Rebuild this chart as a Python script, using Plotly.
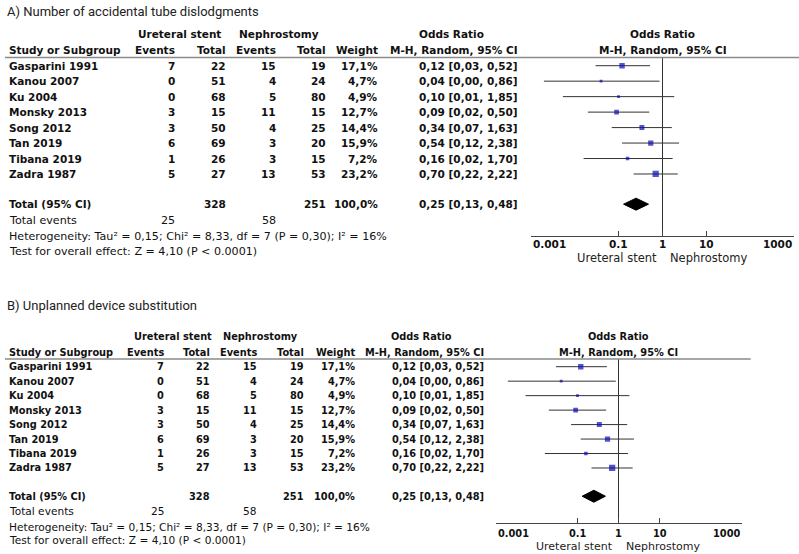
import math
import plotly.graph_objects as go

W, H = 799, 554

# ---------------- data ----------------
studies = ["Gasparini 1991", "Kanou 2007", "Ku 2004", "Monsky 2013",
           "Song 2012", "Tan 2019", "Tibana 2019", "Zadra 1987"]
stent_events = [7, 0, 0, 3, 3, 6, 1, 5]
stent_total = [22, 51, 68, 15, 50, 69, 26, 27]
neph_events = [15, 4, 5, 11, 4, 3, 3, 13]
neph_total = [19, 24, 80, 15, 25, 20, 15, 53]
weight = [17.1, 4.7, 4.9, 12.7, 14.4, 15.9, 7.2, 23.2]
or_est = [0.12, 0.04, 0.10, 0.09, 0.34, 0.54, 0.16, 0.70]
or_low = [0.03, 0.002, 0.0054, 0.02, 0.07, 0.12, 0.016, 0.22]
or_high = [0.52, 0.86, 1.85, 0.50, 1.63, 2.38, 1.70, 2.22]
total_weight = 100.0
total_or = 0.25
total_low = 0.13
total_high = 0.48
tau2, chi2, df_het, p_het, i2 = 0.15, 8.33, 7, 0.30, 16
z_overall, p_overall = 4.10, "< 0.0001"
tick_vals = [0.001, 0.1, 1, 10, 1000]
tick_text = ["0.001", "0.1", "1", "10", "1000"]
panel_titles = ["A) Number of accidental tube dislodgments",
                "B) Unplanned device substitution"]


def fmt(v, d=2):
    return f"{v:.{d}f}".replace(".", ",")


# ---------------- layout constants ----------------
HDR1, HDR2, LINE = -2.06, -1.01, -0.53
TOTAL, TEV, HET, TEST = 8.95, 10.0, 11.05, 12.0
TICKLAB, BOTLAB = 11.5, 12.4

panels = [
    dict(title_y=12, row0=65.7, step=15.47, fs=10.5, rfs=11.1, tfs=13,
         cols=dict(name=7, ev1=177, tot1=228, ev2=278, tot2=328.3, w=380, ci=520),
         us_c=179, ne_c=278.5, or1_c=451, fx=(530.7, 794.3), line_x1=799,
         axis_row=11.04, xa="x", ya="y"),
    dict(title_y=305, row0=366.7, step=14.47, fs=9.8, rfs=10.6, tfs=13,
         cols=dict(name=7, ev1=165.7, tot1=212.3, ev2=259, tot2=305.7, w=356.7, ci=486),
         us_c=173, ne_c=260, or1_c=421, fx=(495.5, 741.5), line_x1=750.7,
         axis_row=10.82, xa="x2", ya="y2"),
]

BOLD = "DejaVu Sans"
TITLE_FONT = "Roboto, Arial"
TXT = "#111"

fig = go.Figure()
annotations = []
shapes = []
layout_axes = {}

for k, p in enumerate(panels):
    xa, ya = p["xa"], p["ya"]
    fs = p["fs"]
    rfs = p["rfs"]
    c = p["cols"]

    def ann(text, xpx, row, anchor="left", bold=True, size=None, color=TXT):
        annotations.append(dict(
            text=f"<b>{text}</b>" if bold else text,
            x=xpx / W, xref="paper", y=row, yref=ya,
            xanchor=anchor, yanchor="middle", showarrow=False,
            font=dict(family=BOLD, size=size or fs, color=color)))

    # title
    annotations.append(dict(
        text=panel_titles[k], x=5 / W, xref="paper",
        y=1 - p["title_y"] / H, yref="paper", xanchor="left", yanchor="middle",
        showarrow=False, font=dict(family=TITLE_FONT, size=p["tfs"], color="#222")))

    # headers
    ann("Ureteral stent", p["us_c"], HDR1, "center")
    ann("Nephrostomy", p["ne_c"], HDR1, "center")
    ann("Odds Ratio", p["or1_c"], HDR1, "center")
    ann("Study or Subgroup", c["name"], HDR2, "left")
    ann("Events", c["ev1"], HDR2, "right")
    ann("Total", c["tot1"], HDR2, "right")
    ann("Events", c["ev2"], HDR2, "right")
    ann("Total", c["tot2"], HDR2, "right")
    ann("Weight", c["w"], HDR2, "right")
    ann("M-H, Random, 95% CI", c["ci"], HDR2, "right")
    annotations.append(dict(text="<b>Odds Ratio</b>", x=0, xref=xa, y=HDR1, yref=ya,
                            xanchor="center", yanchor="middle", showarrow=False,
                            font=dict(family=BOLD, size=fs, color=TXT)))
    annotations.append(dict(text="<b>M-H, Random, 95% CI</b>", x=0, xref=xa, y=HDR2, yref=ya,
                            xanchor="center", yanchor="middle", showarrow=False,
                            font=dict(family=BOLD, size=fs, color=TXT)))

    shapes.append(dict(type="line", xref="paper", yref=ya, x0=5 / W, x1=p["line_x1"] / W,
                       y0=LINE, y1=LINE, line=dict(color="#8a8a8a", width=1.5)))

    # study rows
    for i, s in enumerate(studies):
        ann(s, c["name"], i, "left")
        ann(str(stent_events[i]), c["ev1"], i, "right")
        ann(str(stent_total[i]), c["tot1"], i, "right")
        ann(str(neph_events[i]), c["ev2"], i, "right")
        ann(str(neph_total[i]), c["tot2"], i, "right")
        ann(fmt(weight[i], 1) + "%", c["w"], i, "right")
        ann(f"{fmt(or_est[i])} [{fmt(or_low[i])}, {fmt(or_high[i])}]", c["ci"], i, "right")

    # totals
    ann("Total (95% CI)", c["name"], TOTAL, "left")
    ann(str(sum(stent_total)), c["tot1"], TOTAL, "right")
    ann(str(sum(neph_total)), c["tot2"], TOTAL, "right")
    ann(fmt(total_weight, 1) + "%", c["w"], TOTAL, "right")
    ann(f"{fmt(total_or)} [{fmt(total_low)}, {fmt(total_high)}]", c["ci"], TOTAL, "right")
    ann("Total events", c["name"], TEV, "left", bold=False, size=rfs)
    ann(str(sum(stent_events)), c["ev1"], TEV, "right", bold=False, size=rfs)
    ann(str(sum(neph_events)), c["ev2"], TEV, "right", bold=False, size=rfs)
    ann(f"Heterogeneity: Tau² = {fmt(tau2)}; Chi² = {fmt(chi2)}, df = {df_het} "
        f"(P = {fmt(p_het)}); I² = {i2}%", c["name"], HET, "left", bold=False, size=rfs)
    ann(f"Test for overall effect: Z = {fmt(z_overall)} (P {p_overall})",
        c["name"], TEST, "left", bold=False, size=rfs)

    # forest: CI lines
    xs, ys = [], []
    for i in range(len(studies)):
        xs += [or_low[i], or_high[i], None]
        ys += [i, i, None]
    fig.add_trace(go.Scatter(x=xs, y=ys, mode="lines", xaxis=xa, yaxis=ya,
                             line=dict(color="#333333", width=1), hoverinfo="skip"))
    # vertical line of no effect
    fig.add_trace(go.Scatter(x=[1, 1], y=[LINE, p["axis_row"]], mode="lines",
                             xaxis=xa, yaxis=ya, line=dict(color="#333333", width=1),
                             hoverinfo="skip"))
    # squares
    fig.add_trace(go.Scatter(x=or_est, y=list(range(len(studies))), mode="markers",
                             xaxis=xa, yaxis=ya,
                             marker=dict(symbol="square", color="#0a0ab4",
                                         size=[1.3 * math.sqrt(w) for w in weight],
                                         line=dict(width=0))))
    # diamond
    dh = 6.0 / p["step"]
    fig.add_trace(go.Scatter(x=[total_low, total_or, total_high, total_or, total_low],
                             y=[TOTAL, TOTAL - dh, TOTAL, TOTAL + dh, TOTAL],
                             mode="lines", fill="toself", fillcolor="black",
                             line=dict(color="black", width=1), xaxis=xa, yaxis=ya))

    # tick labels
    for j, (tv, tt) in enumerate(zip(tick_vals, tick_text)):
        anchor = "left" if j == 0 else ("right" if j == len(tick_vals) - 1 else "center")
        annotations.append(dict(text=f"<b>{tt}</b>", x=math.log10(tv), xref=xa,
                                y=TICKLAB, yref=ya, xanchor=anchor, yanchor="middle",
                                showarrow=False, font=dict(family=BOLD, size=fs, color=TXT)))
    annotations.append(dict(text="Ureteral stent", x=0, xref=xa, xshift=-4,
                            y=BOTLAB, yref=ya, xanchor="right", yanchor="middle",
                            showarrow=False, font=dict(family=BOLD, size=rfs + 0.4, color="#222")))
    annotations.append(dict(text="Nephrostomy", x=0, xref=xa, xshift=5,
                            y=BOTLAB, yref=ya, xanchor="left", yanchor="middle",
                            showarrow=False, font=dict(family=BOLD, size=rfs + 0.4, color="#222")))

    xkey = "xaxis" if xa == "x" else "xaxis2"
    ykey = "yaxis" if ya == "y" else "yaxis2"
    layout_axes[xkey] = dict(
        type="log", range=[-3, 3], domain=[p["fx"][0] / W, p["fx"][1] / W],
        anchor="free", position=1 - (p["row0"] + p["axis_row"] * p["step"]) / H,
        showline=True, linecolor="#444", linewidth=1, ticks="inside", ticklen=5,
        tickcolor="#444", tickvals=tick_vals, showticklabels=False,
        showgrid=False, zeroline=False, fixedrange=True)
    layout_axes[ykey] = dict(
        range=[(H - p["row0"]) / p["step"], -p["row0"] / p["step"]],
        domain=[0, 1], visible=False, anchor=xa, fixedrange=True)

fig.update_layout(
    width=W, height=H, margin=dict(l=0, r=0, t=0, b=0),
    paper_bgcolor="white", plot_bgcolor="rgba(0,0,0,0)",
    showlegend=False, annotations=annotations, shapes=shapes, **layout_axes)

fig.write_html("out.html", config={"displayModeBar": False},
               post_script="document.body.style.margin='0px';")
